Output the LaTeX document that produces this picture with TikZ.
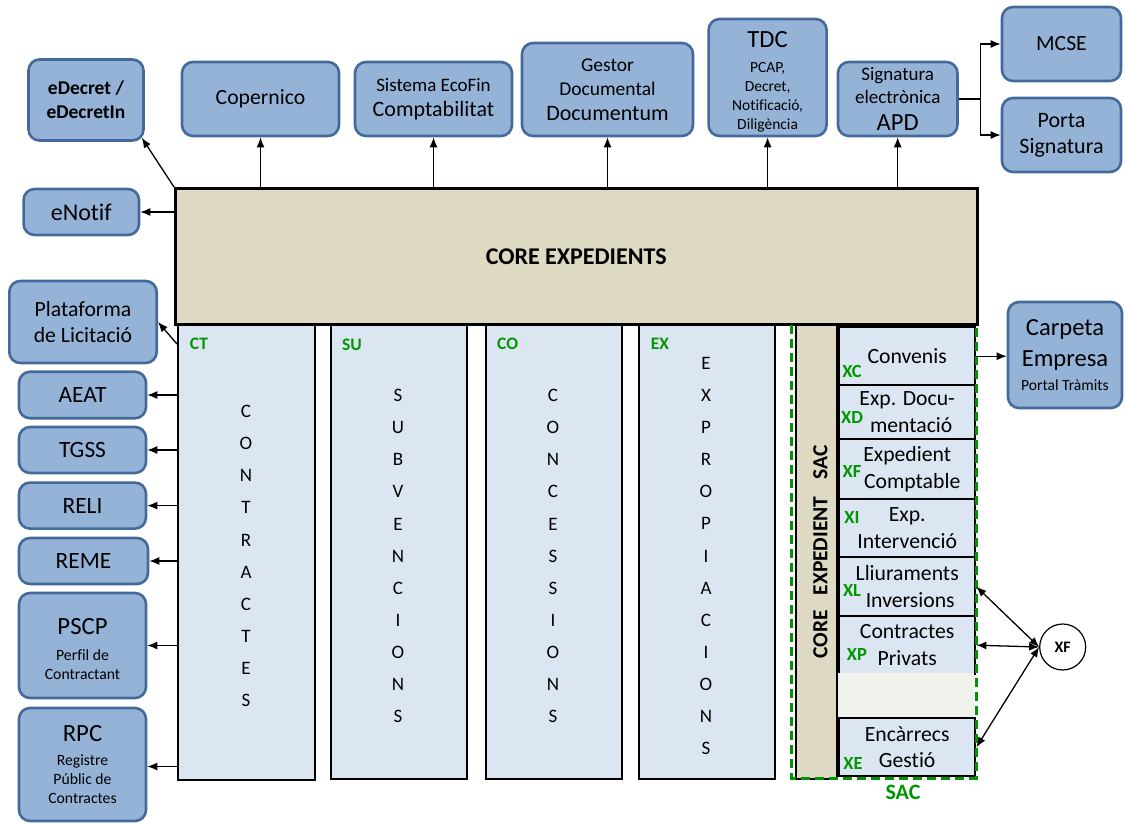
\documentclass[tikz,border=0pt]{standalone}
\usepackage{fontspec}
\setmainfont[Ligatures=NoCommon]{Carlito}
\usetikzlibrary{arrows.meta,calc}
\definecolor{bfill}{RGB}{149,179,215}
\definecolor{bord}{RGB}{68,106,155}
\definecolor{beige}{RGB}{221,217,195}
\definecolor{colfill}{RGB}{220,230,242}
\definecolor{sacgreen}{RGB}{0,150,0}
\definecolor{emptyfill}{RGB}{242,242,236}
\newcommand\fsz[2]{\fontsize{#1}{#2}\selectfont}
\begin{document}
\begin{tikzpicture}[x=1pt,y=-1pt,
  bx/.style={draw=bord, fill=bfill, line width=2.6pt, rounded corners=11pt, inner sep=0pt, align=center, font=\fsz{21.7}{26}},
  colbox/.style={draw=black, fill=colfill, line width=2.4pt, anchor=north west, inner sep=0pt},
  subbox/.style={draw=black, fill=colfill, line width=2.4pt, anchor=north west, inner sep=0pt, minimum width=136pt, align=center, font=\fsz{21.7}{26.5}},
  letters/.style={align=center, font=\fsz{19}{32.1}},
  gl/.style={text=sacgreen, font=\bfseries\fsz{17.5}{17.5}},
  glx/.style={text=sacgreen, font=\bfseries\fsz{18.5}{18.5}},
  arr/.style={-{Latex[length=10pt,width=8pt]}, line width=1.3pt},
  darr/.style={{Latex[length=10pt,width=8pt]}-{Latex[length=10pt,width=8pt]}, line width=1.3pt}
]
\useasboundingbox (0,0) rectangle (1125,823);

% columns
\node[colbox, minimum width=137pt, minimum height=455.6pt] (ct) at (177,323) {};
\node[colbox, minimum width=136pt, minimum height=455pt] (su) at (330,323) {};
\node[colbox, minimum width=136pt, minimum height=455pt] (co) at (485,323) {};
\node[colbox, minimum width=136pt, minimum height=455pt] (ex) at (638,323) {};

\node[letters] at (246,556) {C\\O\\N\\T\\R\\A\\C\\T\\E\\S};
\node[letters] at (398,556) {S\\U\\B\\V\\E\\N\\C\\I\\O\\N\\S};
\node[letters] at (553,556) {C\\O\\N\\C\\E\\S\\S\\I\\O\\N\\S};
\node[letters] at (706,556) {E\\X\\P\\R\\O\\P\\I\\A\\C\\I\\O\\N\\S};

\node[gl] at (199,344) {CT};
\node[gl] at (352,345) {SU};
\node[gl] at (507.7,344) {CO};
\node[gl] at (660,344) {EX};

% core
\node[draw=black, fill=beige, line width=3pt, anchor=north west, minimum width=801.5pt, minimum height=136pt, inner sep=0pt, font=\bfseries\fsz{24}{24}] (core) at (174,187) {CORE EXPEDIENTS};

% SAC
\node[draw=black, fill=beige, line width=2.4pt, anchor=north west, minimum width=41pt, minimum height=454pt, inner sep=0pt] (saccol) at (795,324) {};
\node[rotate=90, font=\bfseries\fsz{21.5}{21.5}] at (820.5,552) {CORE\hspace{15pt}EXPEDIENT\hspace{17pt}SAC};

\node[subbox, minimum height=58pt] (conv) at (838,326) {Convenis};
\node[subbox, minimum height=54pt] (doc) at (838,384) {Exp. Docu-\\\hspace*{8pt}mentació};
\node[subbox, minimum height=60pt] (comp) at (838,438) {Expedient\\\hspace*{10pt}Comptable};
\node[subbox, minimum height=58pt] (int) at (838,498) {Exp.\\Intervenció};
\node[subbox, minimum height=59pt] (lliu) at (838,556) {Lliuraments\\\hspace*{6pt}Inversions};
\node[subbox, minimum height=58pt] (priv) at (838,615) {Contractes\\Privats};
\node[anchor=north west, fill=emptyfill, minimum width=136pt, minimum height=44pt, inner sep=0pt] (empty) at (838,673) {};
\node[subbox, minimum height=58pt] (enc) at (838,717) {Encàrrecs\\Gestió};

\node[glx] at (852,371) {XC};
\node[glx] at (852,417) {XD};
\node[glx] at (852,471) {XF};
\node[glx] at (852,517) {XI};
\node[glx] at (852,590) {XL};
\node[glx] at (857,654) {XP};
\node[glx] at (853,763) {XE};

\draw[sacgreen, line width=3pt, dash pattern=on 9pt off 5pt] (791.7,325) -- (791.7,778) -- (976,778) -- (976,325);
\node[text=sacgreen, font=\bfseries\fsz{22}{22}] at (903,792) {SAC};

% top boxes
\node[bx, minimum width=115pt, minimum height=81pt, font=\bfseries\fsz{19.5}{24}] (edecret) at (86,100) {eDecret /\\eDecretIn};
\node[bx, minimum width=157pt, minimum height=74pt] (cop) at (260.5,99) {Copernico};
\node[bx, minimum width=157pt, minimum height=74pt, font=\fsz{19}{25}] (eco) at (433.5,99) {Sistema EcoFin\\\fsz{22}{25}Comptabilitat};
\node[bx, minimum width=171pt, minimum height=93pt, font=\fsz{19.5}{24.5}] (gest) at (607.5,89.5) {Gestor\\Documental\\\fsz{22}{24.5}Documentum};
\node[bx, minimum width=118pt, minimum height=117pt, font=\fsz{15.5}{19}] (tdc) at (767.6,77.5) {\mbox{}\\[5pt]{\fsz{24.7}{19}TDC}\\[6pt]PCAP,\\Decret,\\Notificació,\\Diligència};
\node[bx, minimum width=119.5pt, minimum height=74pt, font=\fsz{19}{23}] (sig) at (897.7,99) {Signatura\\electrònica\\[4pt]\fsz{24.6}{23}APD};
\node[bx, minimum width=119pt, minimum height=74pt] (mcse) at (1061.5,44) {MCSE};
\node[bx, minimum width=119pt, minimum height=74pt, font=\fsz{22}{26}] (porta) at (1061.5,135) {Porta\\Signatura};

% left boxes
\node[bx, minimum width=115.4pt, minimum height=46pt, font=\fsz{24}{26}] (enotif) at (81.3,212) {eNotif};
\node[bx, minimum width=147.4pt, minimum height=82pt, font=\fsz{21.7}{26}] (plat) at (83,322) {Plataforma\\de Licitació};
\node[bx, minimum width=127pt, minimum height=46.5pt, font=\fsz{23.4}{26}] (aeat) at (82.5,395) {AEAT};
\node[bx, minimum width=127pt, minimum height=46pt, font=\fsz{23.4}{26}] (tgss) at (82.5,450) {TGSS};
\node[bx, minimum width=127pt, minimum height=46pt, font=\fsz{23.4}{26}] (reli) at (82.5,505.6) {RELI};
\node[bx, minimum width=129pt, minimum height=46pt, font=\fsz{23.4}{26}] (reme) at (83.5,561) {REME};
\node[bx, minimum width=127pt, minimum height=105pt, font=\fsz{15.7}{19}] (pscp) at (82.5,645.5) {\mbox{}\\[5pt]{\fsz{24.7}{19}PSCP}\\[7pt]Perfil de\\Contractant};
\node[bx, minimum width=127pt, minimum height=113pt, font=\fsz{15.7}{19}] (rpc) at (82.5,764.5) {{\fsz{24.7}{19}RPC}\\[5pt]Registre\\Públic de\\Contractes};

% right boxes
\node[bx, minimum width=114pt, minimum height=106pt, font=\fsz{24.6}{24}] (carp) at (1065,355) {Carpeta\\[7pt]Empresa\\\fsz{15.6}{24}Portal Tràmits};
\node[circle, draw=black, fill=white, line width=1.2pt, minimum size=46pt, inner sep=0pt, font=\bfseries\fsz{16}{16}] (xf) at (1062.7,647) {XF};

% connectors
\draw[arr] (core.north west) -- ($(edecret.south east)+(-3,-4)$);
\draw[arr] (core.west |- enotif.east) -- (enotif.east);
\draw[arr] (cop.south |- core.north) -- (cop.south);
\draw[arr] (eco.south |- core.north) -- (eco.south);
\draw[arr] (gest.south |- core.north) -- (gest.south);
\draw[arr] (tdc.south |- core.north) -- (tdc.south);
\draw[arr] (sig.south |- core.north) -- (sig.south);
\draw[line width=1.3pt] (sig.east) -- ++(21.5,0) coordinate (br);
\draw[arr] (br) |- (mcse.west);
\draw[arr] (br) |- (porta.west);

\draw[arr] ($(ct.north west)+(0,21)$) -- (plat.east);
\draw[arr] (ct.west |- aeat.east) -- (aeat.east);
\draw[arr] (ct.west |- tgss.east) -- (tgss.east);
\draw[arr] (ct.west |- reli.east) -- (reli.east);
\draw[arr] (ct.west |- reme.east) -- (reme.east);
\draw[arr] (ct.west |- pscp.east) -- (pscp.east);
\draw[arr] (ct.west |- 0,766.5) -- (rpc.east |- 0,766.5);

\draw[arr] (conv.east) -- (carp.west |- conv.east);
\draw[darr] (xf.west) -- (lliu.east);
\draw[darr] (xf.west) -- (priv.east);
\draw[darr] (xf.west) -- (enc.east);
\end{tikzpicture}
\end{document}
